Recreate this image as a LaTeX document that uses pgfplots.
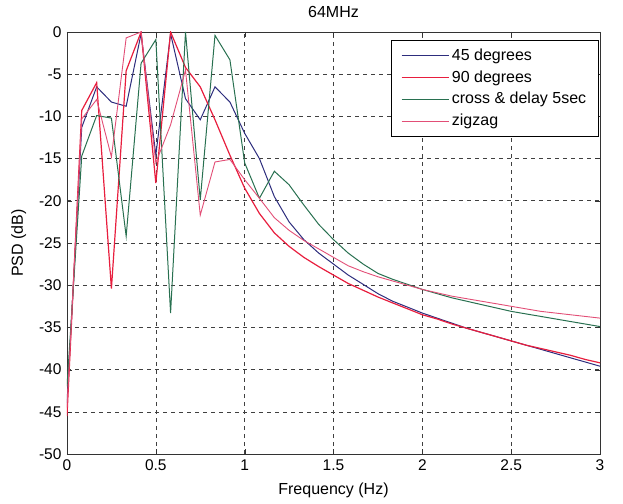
\documentclass[border=0pt]{standalone}
\usepackage{fontspec}
\setmainfont{Liberation Sans}
\usepackage{pgfplots}
\pgfplotsset{compat=1.18}

\definecolor{cBlue}{RGB}{45,45,125}
\definecolor{cRed}{RGB}{232,30,62}
\definecolor{cGreen}{RGB}{40,112,80}
\definecolor{cPink}{RGB}{226,78,118}

\begin{document}
\fontsize{16}{19}\selectfont
\begin{tikzpicture}
\begin{axis}[
  scale only axis,
  width=533pt, height=422pt,
  xmin=0, xmax=3, ymin=-50, ymax=0,
  xtick={0,0.5,...,3}, ytick={-50,-45,...,0},
  xticklabels={0,0.5,1,1.5,2,2.5,3},
  /pgf/number format/assume math mode=true,
  tick label style={font=\fontsize{15.5}{18}\selectfont},
  label style={font=\fontsize{16}{19}\selectfont},
  title style={font=\fontsize{16}{19}\selectfont, yshift=3pt},
  title={64MHz},
  xlabel={Frequency (Hz)}, ylabel={PSD (dB)},
  xlabel style={yshift=-2pt}, ylabel style={yshift=2pt},
  grid=major,
  major grid style={black!75, line width=0.6pt, dash pattern=on 4pt off 4pt},
  axis line style={black!80, line width=0.6pt},
  major tick length=5pt,
  tick style={black!80},
  legend cell align=left,
  legend style={at={(0.997,0.98)}, anchor=north east,
    font=\fontsize{16}{19}\selectfont, row sep=3.8pt,
    inner xsep=10pt, inner ysep=6pt},
  legend image post style={xscale=2.8},
]
\addplot[color=cBlue, line width=1pt] coordinates {
(0,-44) (0.083,-11.3) (0.167,-6.5) (0.25,-8.3) (0.333,-8.8) (0.417,-0.2)
(0.5,-14.6) (0.583,-0.2) (0.667,-7.9) (0.75,-10.4) (0.833,-6.5) (0.917,-8.3)
(1.0,-12) (1.083,-15) (1.167,-19.5) (1.25,-22.5) (1.333,-24.6) (1.417,-26.2)
(1.5,-27.5) (1.583,-28.8) (1.667,-29.9) (1.75,-31.0) (1.833,-31.9) (1.917,-32.6)
(2.0,-33.3) (2.083,-33.9) (2.167,-34.5) (2.25,-35.1) (2.333,-35.6) (2.417,-36.1)
(2.5,-36.6) (2.583,-37.1) (2.667,-37.6) (2.75,-38.1) (2.833,-38.6) (2.917,-39.1)
(3.0,-39.6)};
\addlegendentry{45 degrees}
\addplot[color=cRed, line width=1.2pt] coordinates {
(0,-45.5) (0.083,-9.3) (0.167,-6.0) (0.25,-30.4) (0.333,-4.6) (0.417,0)
(0.5,-17.9) (0.583,0) (0.667,-4.2) (0.75,-6.5) (0.833,-10.4) (0.917,-14.6)
(1.0,-18.5) (1.083,-21.5) (1.167,-23.8) (1.25,-25.4) (1.333,-26.7) (1.417,-27.8)
(1.5,-28.8) (1.583,-29.8) (1.667,-30.6) (1.75,-31.4) (1.833,-32.1) (1.917,-32.8)
(2.0,-33.5) (2.083,-34.0) (2.167,-34.6) (2.25,-35.1) (2.333,-35.6) (2.417,-36.1)
(2.5,-36.6) (2.583,-37.1) (2.667,-37.5) (2.75,-37.9) (2.833,-38.3) (2.917,-38.8)
(3.0,-39.2)};
\addlegendentry{90 degrees}
\addplot[color=cGreen, line width=1pt] coordinates {
(0,-42) (0.083,-14.7) (0.167,-9.9) (0.25,-10.2) (0.333,-24.2) (0.417,-3.7)
(0.5,-0.9) (0.583,-33.3) (0.667,0) (0.75,-19.9) (0.833,-0.4) (0.917,-3.3)
(1.0,-15.5) (1.083,-19.7) (1.167,-16.5) (1.25,-18.1) (1.333,-20.5) (1.417,-22.8)
(1.5,-24.6) (1.583,-26.2) (1.667,-27.5) (1.75,-28.6) (1.833,-29.3) (1.917,-29.9)
(2.0,-30.5) (2.083,-31.0) (2.167,-31.5) (2.25,-31.9) (2.333,-32.3) (2.417,-32.7)
(2.5,-33.1) (2.583,-33.4) (2.667,-33.7) (2.75,-34.0) (2.833,-34.3) (2.917,-34.6)
(3.0,-34.9)};
\addlegendentry{cross \& delay 5sec}
\addplot[color=cPink, line width=0.9pt] coordinates {
(0,-44.5) (0.083,-10.3) (0.167,-8.0) (0.25,-14.8) (0.333,-0.7) (0.417,0)
(0.5,-15.5) (0.583,-11) (0.667,-4.5) (0.75,-21.7) (0.833,-15.4) (0.917,-15.1)
(1.0,-17.5) (1.083,-19.7) (1.167,-22.0) (1.25,-23.5) (1.333,-24.7) (1.417,-25.7)
(1.5,-26.7) (1.583,-27.7) (1.667,-28.4) (1.75,-29.0) (1.833,-29.5) (1.917,-30.0)
(2.0,-30.5) (2.083,-30.9) (2.167,-31.3) (2.25,-31.6) (2.333,-31.9) (2.417,-32.2)
(2.5,-32.5) (2.583,-32.8) (2.667,-33.1) (2.75,-33.3) (2.833,-33.5) (2.917,-33.7)
(3.0,-33.9)};
\addlegendentry{zigzag}
\end{axis}
\pgfresetboundingbox
\path (current axis.south west) ++(-67pt,-49pt) coordinate (bl);
\path (current axis.north east) ++(23pt,32pt) coordinate (tr);
\path[use as bounding box] (bl) rectangle (tr);
\end{tikzpicture}
\end{document}
